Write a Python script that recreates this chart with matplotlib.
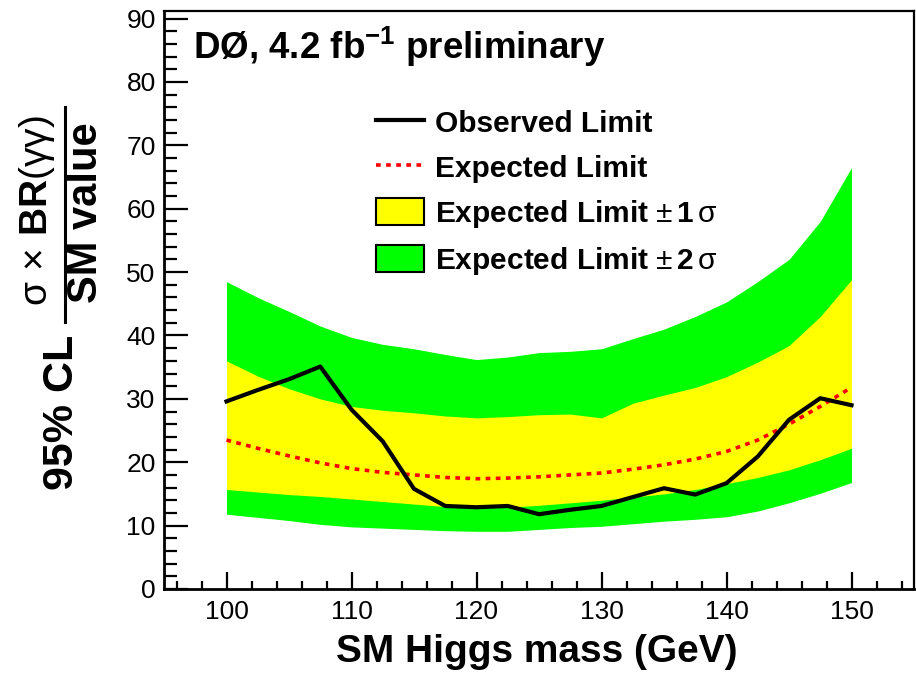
import numpy as np
import matplotlib
matplotlib.use("Agg")
import matplotlib.pyplot as plt
from matplotlib.patches import Patch
from matplotlib.lines import Line2D
from matplotlib.ticker import MultipleLocator

plt.rcParams['font.family'] = ['Liberation Sans', 'DejaVu Sans']
plt.rcParams['mathtext.fontset'] = 'custom'
plt.rcParams['mathtext.rm'] = 'Liberation Sans'
plt.rcParams['mathtext.it'] = 'Liberation Sans'
plt.rcParams['mathtext.bf'] = 'Liberation Sans:bold'

# Higgs mass points (GeV)
mass = [100, 102.5, 105, 107.5, 110, 112.5, 115, 117.5, 120, 122.5, 125,
        127.5, 130, 132.5, 135, 137.5, 140, 142.5, 145, 147.5, 150]

observed = [29.6, 31.4, 33.1, 35.1, 28.3, 23.3, 15.8, 13.1, 12.9, 13.1, 11.8,
            12.5, 13.1, 14.5, 15.9, 14.9, 16.7, 20.9, 26.7, 30.1, 29.0]
expected = [23.5, 22.2, 21.0, 19.9, 19.0, 18.4, 18.0, 17.6, 17.4, 17.5, 17.7,
            18.0, 18.3, 18.9, 19.6, 20.5, 21.7, 23.5, 26.0, 28.8, 31.8]
plus1 = [36.0, 33.6, 31.6, 30.0, 28.8, 28.2, 27.8, 27.3, 27.0, 27.2, 27.5,
         27.6, 27.0, 29.3, 30.6, 31.8, 33.5, 35.8, 38.4, 43.0, 48.8]
minus1 = [15.7, 15.3, 14.9, 14.6, 14.2, 13.8, 13.4, 13.0, 12.8, 12.9, 13.2,
          13.6, 14.0, 14.5, 15.0, 15.7, 16.6, 17.6, 18.8, 20.4, 22.2]
plus2 = [48.5, 46.0, 43.8, 41.5, 39.7, 38.6, 37.9, 37.0, 36.2, 36.6, 37.3,
         37.5, 37.9, 39.5, 41.0, 43.0, 45.3, 48.5, 52.0, 58.0, 66.5]
minus2 = [11.8, 11.3, 10.8, 10.2, 9.8, 9.6, 9.4, 9.2, 9.1, 9.1, 9.4,
          9.7, 9.9, 10.3, 10.7, 11.0, 11.4, 12.3, 13.6, 15.1, 16.8]

W, H = 916, 683
fig = plt.figure(figsize=(W / 100, H / 100), dpi=100)
ax = fig.add_axes([164 / W, 1 - 589 / H, 750 / W, 578 / H])

green = '#00ff00'
yellow = '#ffff00'
red_dash = (1.3, 1.5)

ax.fill_between(mass, minus2, plus2, color=green, lw=0)
ax.fill_between(mass, minus1, plus1, color=yellow, lw=0)
ax.plot(mass, expected, color='#ff0000', lw=2.6, dashes=red_dash)
ax.plot(mass, observed, color='black', lw=3.0)

ax.set_xlim(95, 155)
ax.set_ylim(0, 91.2)
ax.xaxis.set_major_locator(MultipleLocator(10))
ax.xaxis.set_minor_locator(MultipleLocator(2))
ax.yaxis.set_major_locator(MultipleLocator(10))
ax.yaxis.set_minor_locator(MultipleLocator(2))
ax.tick_params(axis='both', which='both', direction='in', width=1.6,
               top=False, right=False, labelsize=19)
ax.tick_params(axis='x', which='major', length=12, pad=8)
ax.tick_params(axis='x', which='minor', length=6)
ax.tick_params(axis='y', which='major', length=17, pad=6)
ax.tick_params(axis='y', which='minor', length=9)
for s in ['left', 'bottom']:
    ax.spines[s].set_linewidth(2.0)
for s in ['top', 'right']:
    ax.spines[s].set_linewidth(1.6)

# x axis title
fig.text(537 / W, 1 - 652 / H, 'SM Higgs mass (GeV)', ha='center', va='center',
         fontsize=28, fontweight='bold')

# y axis title built from pieces
fig.text(62 / W, 1 - 412 / H, '95% CL', rotation=90, ha='center', va='center',
         fontsize=31, fontweight='bold')
fig.text(37 / W, 1 - 211 / H, r'$\sigma\,\times\,\mathbf{BR}(\gamma\gamma)$', rotation=90,
         ha='center', va='center', fontsize=28)
fig.text(86 / W, 1 - 213 / H, 'SM value', rotation=90, ha='center', va='center',
         fontsize=30, fontweight='bold')
fig.add_artist(Line2D([65 / W, 65 / W], [1 - 107 / H, 1 - 322 / H],
                      transform=fig.transFigure, color='black', lw=2.2))

# experiment label
fig.text(193 / W, 1 - 47 / H, r'DØ, 4.2 fb$^{\mathbf{-1}}$ preliminary', ha='left',
         va='center', fontsize=26.5, fontweight='bold')

handles = [
    Line2D([], [], color='black', lw=3.0),
    Line2D([], [], color='#ff0000', lw=2.6, dashes=red_dash),
    Patch(facecolor=yellow, edgecolor='black', lw=1.5),
    Patch(facecolor=green, edgecolor='black', lw=1.5),
]
labels = ['Observed Limit', 'Expected Limit',
          r'Expected Limit $\pm\,\mathbf{1}\,\sigma$',
          r'Expected Limit $\pm\,\mathbf{2}\,\sigma$']
ax.legend(handles, labels, loc='upper left',
          bbox_to_anchor=(376 / W, 1 - 108 / H), bbox_transform=fig.transFigure,
          frameon=False, borderpad=0, borderaxespad=0,
          handlelength=1.6, handleheight=1.04, handletextpad=0.37,
          labelspacing=0.5, prop={'weight': 'bold', 'size': 21.5})

fig.savefig('out.png', dpi=100)
